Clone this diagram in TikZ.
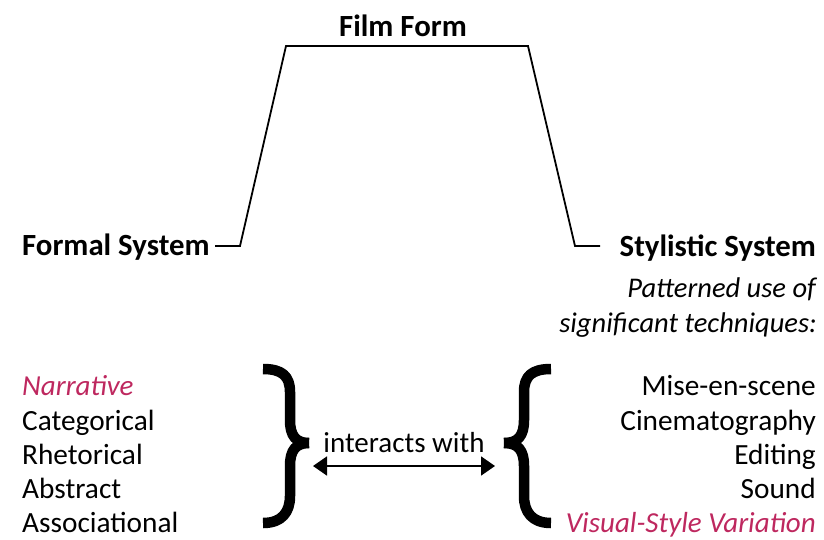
\documentclass[tikz,border=0pt]{standalone}
\usepackage{fontspec}
\setmainfont{Carlito}
\usetikzlibrary{arrows.meta}
\definecolor{accent}{RGB}{190,40,95}
\begin{document}
\begin{tikzpicture}[x=1pt,y=-1pt,
  txt/.style={inner sep=0pt,font=\fontsize{29.3}{34}\selectfont},
  head/.style={inner sep=0pt,font=\bfseries\fontsize{30.8}{32}\selectfont},
  note/.style={inner sep=0pt,font=\itshape\fontsize{28.5}{32}\selectfont},
  hot/.style={txt,text=accent,font=\itshape\fontsize{29}{34}\selectfont},
  frame/.style={line width=1.8pt},
  bracestroke/.style={line width=10.5pt,line cap=butt,line join=round}]
\useasboundingbox (0,0) rectangle (824,540);

% headings
\node[head,anchor=base] (film) at (403,37) {Film Form};
\node[head,anchor=base west] (formal) at (22,255) {Formal System};
\node[head,anchor=base east] (stylistic) at (816,256) {Stylistic System};
\node[note,anchor=base east] (pat) at (816,297) {Patterned use of};
\node[note,anchor=base east] (sig) at (817,332) {significant techniques:};

% the bracket joining the two systems under Film Form
\coordinate (l0) at (215,246);
\coordinate (l1) at (240,246);
\coordinate (t1) at (286,46);
\coordinate (t2) at (528,46);
\coordinate (r1) at (575,246);
\coordinate (r0) at (600,246);
\draw[frame] (l0) -- (l1) -- (t1) -- (t2) -- (r1) -- (r0);

% left list
\node[hot,anchor=base west] (n1) at (22,395) {Narrative};
\node[txt,anchor=base west] (n2) at (22,430) {Categorical};
\node[txt,anchor=base west] (n3) at (22,464) {Rhetorical};
\node[txt,anchor=base west] (n4) at (22,498) {Abstract};
\node[txt,anchor=base west] (n5) at (22,532) {Associational};

% right list
\node[txt,anchor=base east] (s1) at (816,395) {Mise-en-scene};
\node[txt,anchor=base east] (s2) at (816,430) {Cinematography};
\node[txt,anchor=base east] (s3) at (816,464) {Editing};
\node[txt,anchor=base east] (s4) at (816,498) {Sound};
\node[hot,anchor=base east] (s5) at (816,532) {Visual-Style Variation};

% closing brace, drawn as two halves meeting at the middle nub
\draw[bracestroke] (263,369) .. controls (282,369) and (290,376) .. (290,392)
  -- (290,420) .. controls (290,436) and (296,443) .. (309,443);
\draw[bracestroke] (263,523) .. controls (282,523) and (290,512) .. (290,496)
  -- (290,466) .. controls (290,450) and (296,443) .. (309,443);
% opening brace
\draw[bracestroke] (551,369) .. controls (532,369) and (524,376) .. (524,392)
  -- (524,420) .. controls (524,436) and (518,443) .. (504,443);
\draw[bracestroke] (551,523) .. controls (532,523) and (524,512) .. (524,496)
  -- (524,466) .. controls (524,450) and (518,443) .. (504,443);

% interaction arrow
\node[txt,font=\fontsize{29}{30}\selectfont,anchor=base] (inter) at (404,452) {interacts with};
\coordinate (a1) at (313,466);
\coordinate (a2) at (495,466);
\draw[line width=1.8pt,{Triangle[length=14pt,width=19pt]}-{Triangle[length=14pt,width=19pt]}] (a1) -- (a2);
\end{tikzpicture}
\end{document}
